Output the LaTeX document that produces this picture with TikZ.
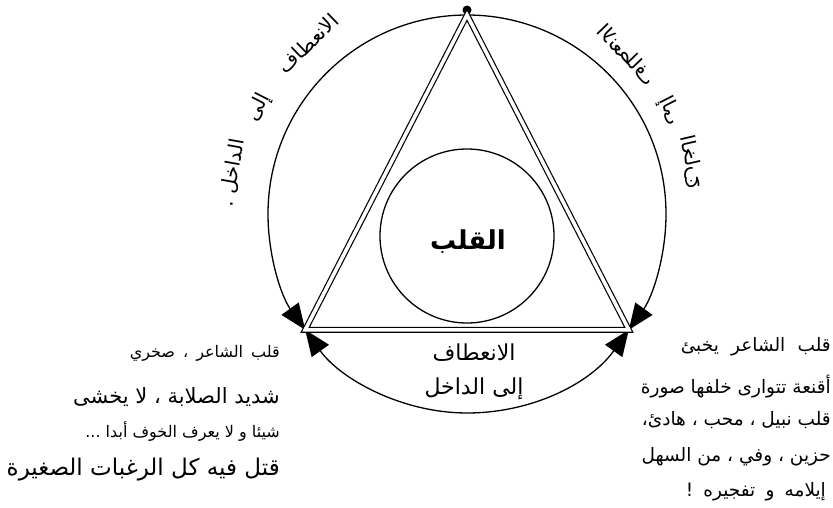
\documentclass[tikz,border=0pt]{standalone}
\usepackage{fontspec}
\usetikzlibrary{arrows.meta,positioning}
\newfontfamily\arabicfont[Script=Arabic]{DejaVu Sans}
\TeXXeTstate=1

\begin{document}
\begin{tikzpicture}[
        x=1pt, y=-1pt,
        ring/.style={line width=1.3pt},
        tip/.style={-{Triangle[length=26pt,width=21pt]}},
        tips/.style={{Triangle[length=26pt,width=21pt]}-{Triangle[length=26pt,width=21pt]}},
        frame/.style={double, double distance=3.6pt, line width=1.2pt, line join=miter},
        every node/.style={inner sep=0pt, font=\arabicfont},
        fs/.style={font=\arabicfont\fontsize{#1}{#1}\selectfont},
        hand/.style={font=\arabicfont\fontsize{20}{22}\selectfont}
    ]
    \useasboundingbox (0,0) rectangle (833,508);

    % circle and triangle
    \coordinate (c) at (467,214);
    \coordinate (apex) at (467,15);
    \coordinate (lv) at (305.2,329.8);
    \coordinate (rv) at (628.8,329.8);
    \node[circle, fill, minimum size=9pt] (top) at (467,10) {};
    \draw[ring, tip] (apex) arc[start angle=-90, end angle=-215.6, radius=199];
    \draw[ring, tip] (apex) arc[start angle=-90, end angle=35.6, radius=199];
    \draw[ring, tips] (rv) arc[start angle=35.6, end angle=144.4, radius=199];
    \draw[frame] (apex) -- (lv) -- (rv) -- cycle;

    \node[circle, draw, ring, minimum size=174pt] (core) at (467,236) {};
    \node[font=\arabicfont\bfseries\fontsize{26}{30}\selectfont] (heart) at (468,242) {\beginR القلب\endR};

    % below the base
    \node[fs=22] (inA) at (474,353) {\beginR الانعطاف\endR};
    \node[fs=22] (inB) at (474,389) {\beginR إلى الداخل\endR};

    % handwriting round the circle
    \node[hand, rotate=44] (lw1) at ([shift={(-133:233)}]c) {\beginR الانعطاف\endR};
    \node[hand, rotate=63] (lw2) at ([shift={(-153:234)}]c) {\beginR إلى\endR};
    \node[hand, rotate=80] (lw3) at ([shift={(-170:238)}]c) {\beginR الداخل .\endR};
    \node[hand, rotate=-46] (rw1) at ([shift={(-45:226)}]c) {\reflectbox{\beginR الانعطاف\endR}};
    \node[hand, rotate=-63] (rw2) at ([shift={(-27:228)}]c) {\reflectbox{\beginR إلى\endR}};
    \node[hand, rotate=-77] (rw3) at ([shift={(-13:230)}]c) {\reflectbox{\beginR الخارج\endR}};

    % left text
    \node[fs=16, anchor=east] (lp1) at (280,353) {\makebox[150pt][s]{\beginR قلب الشاعر ، صخري\endR}};
    \node[fs=21, anchor=east] (lp2) at (280,397) {\beginR شديد الصلابة ، لا يخشى\endR};
    \node[fs=16, anchor=east] (lp3) at (280,431) {\beginR شيئا و لا يعرف الخوف أبدا ...\endR};
    \node[fs=23, anchor=east] (lp4) at (280,470) {\beginR قتل فيه كل الرغبات الصغيرة\endR};

    % right text
    \node[fs=18.5, anchor=east] (rp1) at (831,347) {\makebox[150pt][s]{\beginR قلب الشاعر يخبئ\endR}};
    \node[fs=18.5, anchor=east] (rp2) at (831,387) {\beginR أقنعة تتوارى خلفها صورة\endR};
    \node[fs=18.5, anchor=east] (rp3) at (831,420) {\beginR قلب نبيل ، محب ، هادئ،\endR};
    \node[fs=18.5, anchor=east] (rp4) at (831,457) {\beginR حزين ، وفي ، من السهل\endR};
    \node[fs=18.5, anchor=east] (rp5) at (826,492) {\makebox[140pt][s]{\beginR إيلامه و تفجيره !\endR}};
\end{tikzpicture}
\end{document}
